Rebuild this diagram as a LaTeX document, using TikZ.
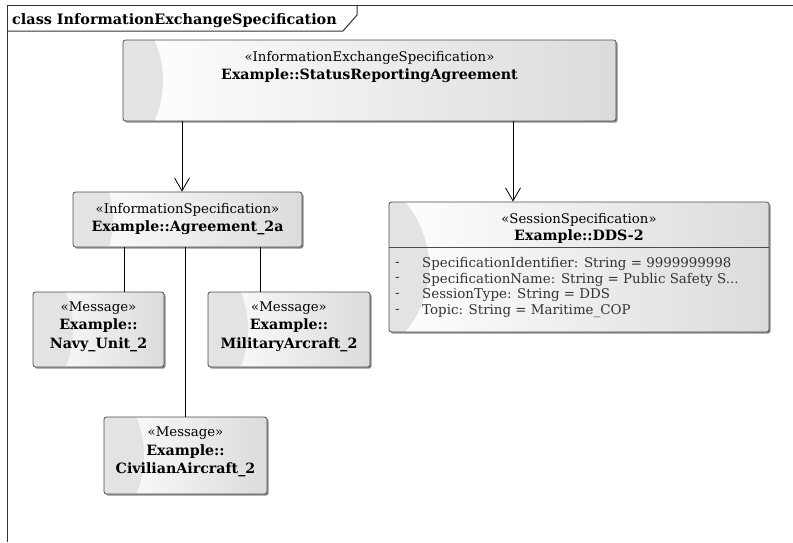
\documentclass[tikz,border=0pt]{standalone}
\usepackage{fontspec}
\setmainfont{DejaVu Serif}
\usetikzlibrary{arrows.meta,shadows}

\newcommand{\nameline}[1]{{\fontsize{14.2}{18}\selectfont\bfseries #1}}

\tikzset{
  umlbox/.style={
    draw=black!70, line width=0.8pt, rounded corners=2.5pt, inner sep=0pt,
    drop shadow={shadow xshift=1.6pt, shadow yshift=-1.6pt, fill=black!60, opacity=0.75},
    path picture={
      \shade[left color=white, right color=black!14]
        (path picture bounding box.south west) rectangle (path picture bounding box.north east);
      \fill[black!11] ([xshift=-60pt]path picture bounding box.west)
        ellipse [x radius=100pt, y radius=100pt];
    }},
  boxtext/.style={align=center, inner sep=0pt, font=\fontsize{13.3}{18}\selectfont},
  msgtext/.style={align=center, inner sep=0pt, font=\fontsize{13.3}{18.5}\selectfont},
  attrtext/.style={align=left, inner sep=0pt, text=black!80, font=\fontsize{13.4}{15.7}\selectfont},
  frameline/.style={draw=black!80, line width=1pt},
  link/.style={draw=black, line width=0.8pt},
  realize/.style={link, -{Straight Barb[length=13pt, width=15pt, line width=0.8pt]}},
}

\begin{document}
\begin{tikzpicture}[x=1pt, y=-1pt]
  \useasboundingbox (0,0) rectangle (793,542);

  % diagram frame with its name tab
  \draw[frameline] (793,5) -- (7.5,5) -- (7.5,542);
  \draw[frameline] (7.5,31) -- (343,31) -- (357,15) -- (357,5);
  \node[anchor=base west, inner sep=0pt, font=\fontsize{14.4}{16}\selectfont\bfseries]
    (title) at (12,24) {class InformationExchangeSpecification};

  % class boxes
  \node[umlbox, minimum width=493pt, minimum height=81pt] (isa)  at (369.5,80.5) {};
  \node[umlbox, minimum width=229pt, minimum height=55pt] (agr)  at (187.5,219.5) {};
  \node[umlbox, minimum width=380pt, minimum height=130pt] (dds) at (579,267) {};
  \node[umlbox, minimum width=131pt, minimum height=75pt] (navy) at (98.5,329.5) {};
  \node[umlbox, minimum width=162pt, minimum height=75pt] (mil)  at (289,329.5) {};
  \node[umlbox, minimum width=163pt, minimum height=77pt] (civ)  at (185.5,455.5) {};

  % box captions
  \node[boxtext] (isaT) at (369.5,67)
    {«InformationExchangeSpecification»\\\nameline{Example::StatusReportingAgreement}};
  \node[boxtext] (agrT) at (187.5,219)
    {«InformationSpecification»\\\nameline{Example::Agreement\_2a}};
  \node[boxtext, font=\fontsize{13.3}{17}\selectfont] (ddsT) at (579,228.5)
    {«SessionSpecification»\\\nameline{Example::DDS-2}};
  \node[msgtext] (navyT) at (98.5,326.5)
    {«Message»\\\nameline{Example::}\\\nameline{Navy\_Unit\_2}};
  \node[msgtext] (milT) at (289,326.5)
    {«Message»\\\nameline{Example::}\\\nameline{MilitaryArcraft\_2}};
  \node[msgtext] (civT) at (185.5,452)
    {«Message»\\\nameline{Example::}\\\nameline{CivilianAircraft\_2}};

  % attribute compartment of the session specification
  \draw[draw=black!70, line width=0.8pt] ([yshift=-46pt]dds.north west) -- ([yshift=-46pt]dds.north east);
  \node[attrtext, anchor=west] (ddsD) at (395,287.5) {-\\-\\-\\-};
  \node[attrtext, anchor=west] (ddsA) at (422,287.5)
    {SpecificationIdentifier: String = 9999999998\\
     SpecificationName: String = Public Safety S...\\
     SessionType: String = DDS\\
     Topic: String = Maritime\_COP};

  % connectors
  \draw[realize] ([xshift=-5.5pt]agr.north |- isa.south) -- ([xshift=-5.5pt]agr.north);
  \draw[realize] ([xshift=-66pt]dds.north |- isa.south) -- ([xshift=-66pt]dds.north);
  \draw[link] ([xshift=25.5pt]navy.north |- agr.south) -- ([xshift=25.5pt]navy.north);
  \draw[link] ([xshift=-29pt]mil.north |- agr.south) -- ([xshift=-29pt]mil.north);
  \draw[link] (civ.north |- agr.south) -- (civ.north);
\end{tikzpicture}
\end{document}
